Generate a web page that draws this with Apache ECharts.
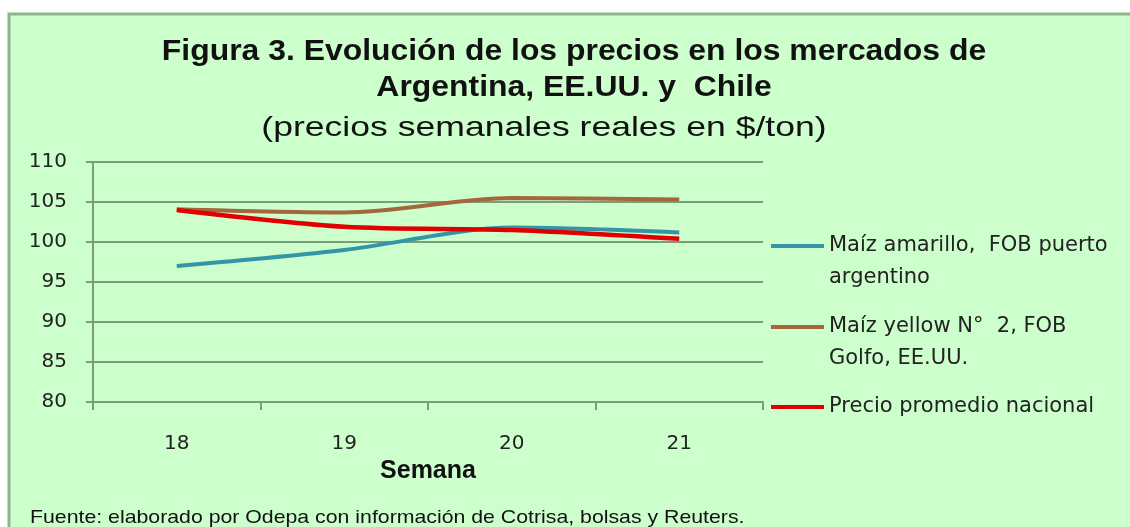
<!DOCTYPE html>
<html>
<head>
<meta charset="utf-8">
<script src="https://cdn.jsdelivr.net/npm/echarts@6/dist/echarts.min.js"></script>
<style>
  html, body { margin: 0; padding: 0; background: #ffffff; }
  #chart { width: 1130px; height: 527px; }
</style>
</head>
<body>
<div id="chart"></div>
<script>
// weeks (Semana)
var semanas = ['18', '19', '20', '21'];
var yTicks = [80, 85, 90, 95, 100, 105, 110];

var seriesNames = [
  'Maíz amarillo,  FOB puerto\nargentino',
  'Maíz yellow N°  2, FOB\nGolfo, EE.UU.',
  'Precio promedio nacional'
];
var maizArgentina = [97.0, 99.0, 101.8, 101.2];
var maizEEUU = [104.1, 103.7, 105.5, 105.3];
var precioNacional = [104.0, 101.9, 101.5, 100.4];

var colors = ['#3396a6', '#a3673b', '#e00000'];
var legendTops = [198, 279, 391];

var chart = echarts.init(document.getElementById('chart'));

// one legend per series so each can sit at its own height
var legends = seriesNames.map(function (n, i) {
  return {
    data: [n],
    left: 771,
    top: legendTops[i],
    padding: 0,
    icon: 'rect',
    itemWidth: 53,
    itemHeight: 4,
    selectedMode: false,
    // blank first line keeps the first text line level with the icon
    formatter: function (name) {
      return name.indexOf('\n') >= 0 ? ' \n' + name : name;
    },
    textStyle: {
      fontFamily: 'DejaVu Sans',
      fontSize: 21,
      color: '#222',
      lineHeight: 32
    }
  };
});

function label(text, x, y, font, sx, align) {
  return {
    type: 'text', x: x, y: y, scaleX: sx, z: 5,
    style: {
      text: text, font: font, fill: '#111',
      align: align, verticalAlign: 'middle',
      textAlign: align, textVerticalAlign: 'middle'
    }
  };
}

chart.setOption({
  animation: false,
  graphic: [{
    type: 'rect',
    z: -10,
    shape: { x: 9, y: 14, width: 1200, height: 600 },
    style: { fill: '#ccffcc', stroke: '#8db58d', lineWidth: 3 }
  },
    label('Figura 3. Evolución de los precios en los mercados de', 574, 52, 'bold 29px "Liberation Sans"', 1.1, 'center'),
    label('Argentina, EE.UU. y  Chile', 574, 88, 'bold 29px "Liberation Sans"', 1.1, 'center'),
    label('(precios semanales reales en $/ton)', 544, 128, '28px "Liberation Sans"', 1.27, 'center'),
    label('Fuente: elaborado por Odepa con información de Cotrisa, bolsas y Reuters.', 30, 518, '19px "Liberation Sans"', 1.12, 'left')
  ],
  legend: legends,
  grid: { left: 93, right: 367, top: 162, bottom: 125 },
  xAxis: {
    type: 'category',
    data: semanas,
    boundaryGap: true,
    name: 'Semana',
    nameLocation: 'middle',
    nameGap: 57,
    nameTextStyle: { fontFamily: 'Liberation Sans', fontWeight: 'bold', fontSize: 25, color: '#111' },
    axisLine: { lineStyle: { color: '#7a9e7a', width: 2 } },
    axisTick: { show: true, length: 8, lineStyle: { color: '#7a9e7a', width: 2 } },
    axisLabel: { margin: 32, fontFamily: 'DejaVu Sans', fontSize: 20, color: '#222' },
    splitLine: { show: false }
  },
  yAxis: {
    type: 'value',
    min: yTicks[0],
    max: yTicks[yTicks.length - 1],
    interval: 5,
    axisLine: { show: true, lineStyle: { color: '#7a9e7a', width: 2 } },
    axisTick: { show: true, length: 7, lineStyle: { color: '#7a9e7a', width: 2 } },
    axisLabel: { margin: 26, fontFamily: 'DejaVu Sans', fontSize: 20, color: '#222' },
    splitLine: { lineStyle: { color: '#7a9e7a', width: 2 } }
  },
  series: [
    { name: seriesNames[0], type: 'line', data: maizArgentina, smooth: 0.3, showSymbol: false,
      lineStyle: { width: 4, color: colors[0] }, itemStyle: { color: colors[0] } },
    { name: seriesNames[1], type: 'line', data: maizEEUU, smooth: 0.3, showSymbol: false,
      lineStyle: { width: 4, color: colors[1] }, itemStyle: { color: colors[1] } },
    { name: seriesNames[2], type: 'line', data: precioNacional, smooth: 0.3, showSymbol: false,
      lineStyle: { width: 4.5, color: colors[2] }, itemStyle: { color: colors[2] } }
  ]
});
</script>
</body>
</html>
